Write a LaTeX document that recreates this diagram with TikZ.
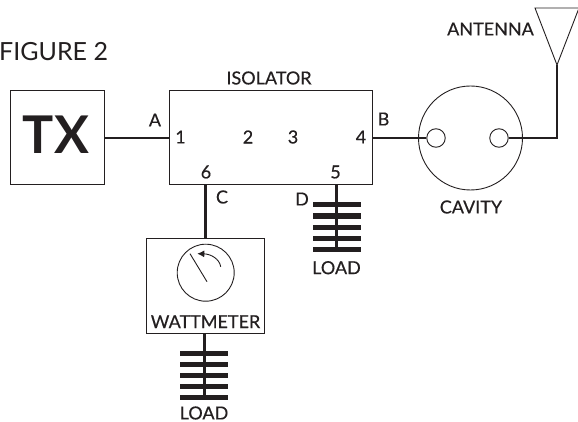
\documentclass[tikz,border=0pt]{standalone}
\usepackage{fontspec}
\setmainfont{Lato}
\newfontfamily\labelfont{Lato}[FakeBold=0.4]
\usepackage{tikz}
\usetikzlibrary{arrows,arrows.meta,shapes,calc}
\definecolor{inkblack}{HTML}{231F20}
\tikzstyle{boxnode} = [rectangle, draw=inkblack, line width=1pt, inner sep=0pt]
\tikzstyle{ringnode} = [circle, draw=inkblack, line width=0.9pt, inner sep=0pt]
\tikzstyle{barnode} = [rectangle, fill=inkblack, inner sep=0pt, minimum width=48pt, minimum height=5pt, node distance=11pt]
\tikzstyle{label} = [inner sep=0pt, text=inkblack, font=\labelfont\fontsize{18}{19}\selectfont]
\tikzstyle{wire} = [draw=inkblack, line width=2.6pt]
\tikzstyle{thinline} = [draw=inkblack, line width=0.9pt]

\begin{document}
\begin{tikzpicture}[x=1pt,y=-1pt]
    \useasboundingbox (0,0) rectangle (578,422);
    % Place nodes

    \node [boxnode, minimum width=94pt, minimum height=94pt] (txBox) at (57,138) {};
    \node [inner sep=0pt, text=inkblack, font=\bfseries\fontsize{52}{52}\selectfont] (txText) at (56,134.5) {TX};
    \node [boxnode, right of=txBox, node distance=213.5pt, minimum width=203pt, minimum height=94pt] (isolator) {};
    \node [ringnode, right of=isolator, node distance=200pt, minimum size=104pt] (cavity) {};
    \node [ringnode, left of=cavity, node distance=34.5pt, minimum size=18.5pt] (cavityIn) {};
    \node [ringnode, right of=cavity, node distance=28.5pt, minimum size=18.5pt] (cavityOut) {};

    \node [boxnode, minimum width=118.5pt, minimum height=95pt] (wattmeter) at (205.7,285.5) {};
    \node [ringnode, minimum size=57pt] (dial) at (205.7,272.7) {};

    \node [barnode] (loadD0) at (336.7,205) {};
    \node [barnode, below of=loadD0] (loadD1) {};
    \node [barnode, below of=loadD1] (loadD2) {};
    \node [barnode, below of=loadD2] (loadD3) {};
    \node [barnode, below of=loadD3] (loadD4) {};

    \node [barnode] (loadW0) at (204.3,353.3) {};
    \node [barnode, below of=loadW0] (loadW1) {};
    \node [barnode, below of=loadW1] (loadW2) {};
    \node [barnode, below of=loadW2] (loadW3) {};
    \node [barnode, below of=loadW3] (loadW4) {};

    \node [label, font=\fontsize{25}{26}\selectfont, anchor=west] (figTitle) at (-1,52) {FIGURE 2};
    \node [label] (isolatorText) at (269,78) {ISOLATOR};
    \node [label] (antennaText) at (490.5,29) {ANTENNA};
    \node [label] (cavityText) at (471,207) {CAVITY};
    \node [label] (wattText) at (205.5,321.7) {WATTMETER};
    \node [label] (loadDText) at (336.5,267.7) {LOAD};
    \node [label] (loadWText) at (204,413) {LOAD};

    \node [label] (portA) at (155,120) {A};
    \node [label] (portB) at (383.5,119) {B};
    \node [label] (portC) at (222,197) {C};
    \node [label] (portD) at (302,199) {D};
    \node [label] (port1) at (180.5,137) {1};
    \node [label] (port2) at (248,137) {2};
    \node [label] (port3) at (293,137) {3};
    \node [label] (port4) at (361,137) {4};
    \node [label] (port5) at (335.5,172) {5};
    \node [label] (port6) at (206,172) {6};

    \coordinate (antennaLeft) at (535,8);
    \coordinate (antennaRight) at (579,8);
    \coordinate (antennaTip) at (557,65);
    \coordinate (antennaBend) at (557,138);
    \coordinate (needleTop) at (190,253.7);
    \coordinate (needleEnd) at (207,281.7);
    \coordinate (sweepFrom) at (220.7,266.7);
    \coordinate (sweepTo) at (197.3,253.7);

    \path [wire] (txBox.east) -- (isolator.west);
    \path [wire] (isolator.east) -- (cavityIn.west);
    \path [wire] (cavityOut.east) -- (antennaBend) -- (antennaTip);
    \path [wire] (isolator.south -| wattmeter) -- (wattmeter.north);
    \path [wire] (isolator.south -| loadD0) -- (loadD4.center);
    \path [wire] (wattmeter.south -| loadW0) -- (loadW4.center);

    \path [thinline] (antennaLeft) -- (antennaRight) -- (antennaTip) -- cycle;
    \path [thinline] (needleTop) -- (needleEnd);
    \path [thinline, -{Latex[length=7pt,width=7pt]}] (sweepFrom) .. controls (219.5,259) and (211,254) .. (sweepTo);
\end{tikzpicture}
\end{document}
